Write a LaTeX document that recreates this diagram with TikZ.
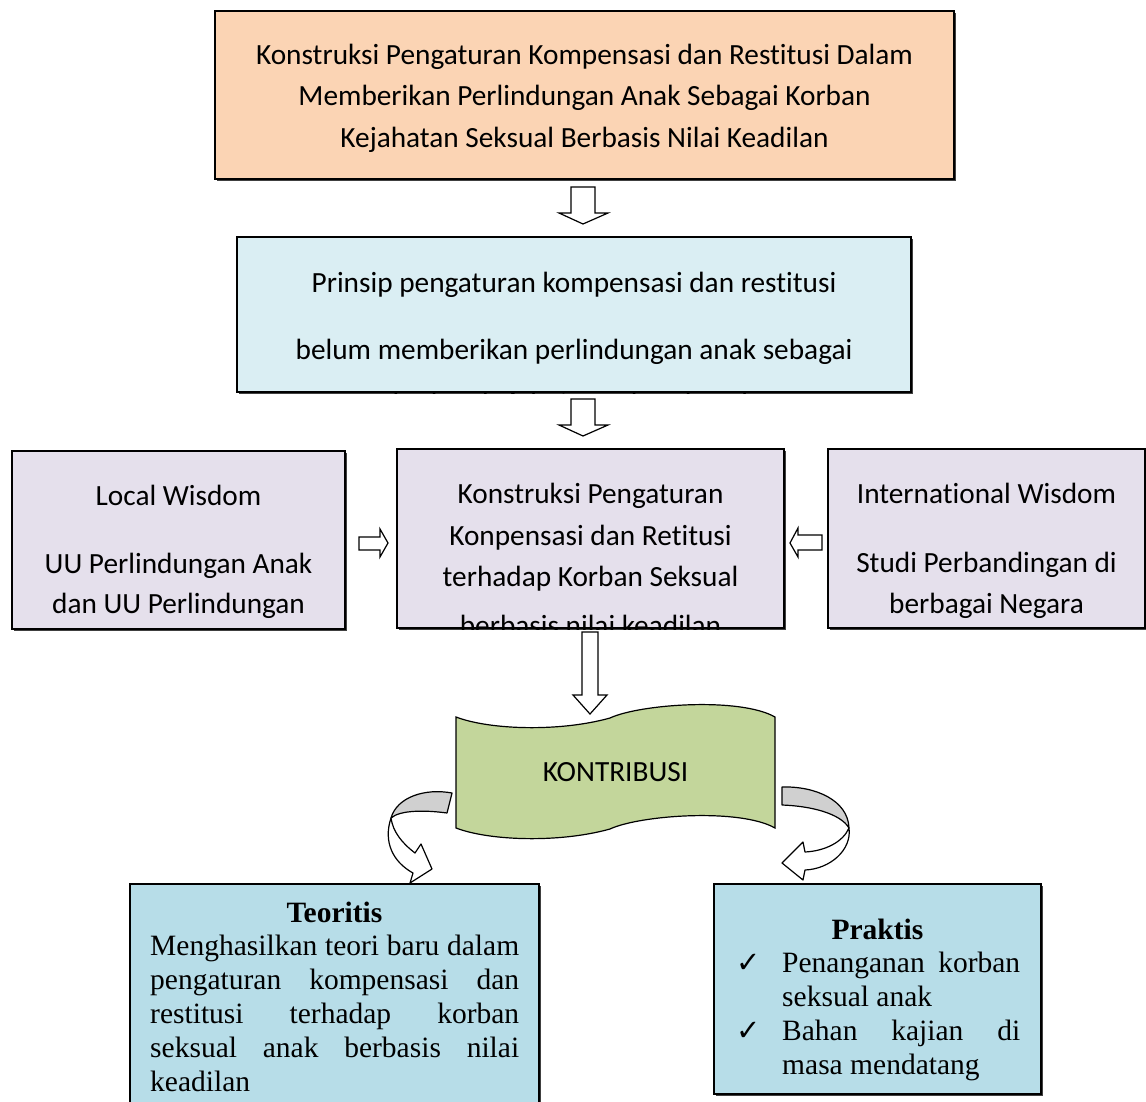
\documentclass[tikz,border=0pt]{standalone}
\usepackage{fontspec}
\setmainfont{Carlito}[Ligatures=NoCommon]
\newfontfamily\tnr{Liberation Serif}[Ligatures=NoCommon]
\newfontfamily\djv{DejaVu Sans}
\usetikzlibrary{shadows}
\definecolor{orangeC}{HTML}{FBD4B4}
\definecolor{blueC}{HTML}{DAEEF3}
\definecolor{lavC}{HTML}{E5E0EC}
\definecolor{greenC}{HTML}{C3D69B}
\definecolor{bbC}{HTML}{B7DDE8}
\definecolor{grayC}{HTML}{D0D0D0}
\begin{document}
\begin{tikzpicture}[x=1pt,y=-1pt,
  box/.style={draw=black, line width=1.2pt, inner sep=0pt, rectangle,
    drop shadow={shadow xshift=1.6pt, shadow yshift=-1.6pt, fill=black!75, opacity=1}},
  cal/.style={font=\fontsize{29.3}{35}\selectfont, inner sep=0pt, anchor=base},
  tms/.style={font=\tnr\fontsize{29.5}{34}\selectfont, inner sep=0pt, anchor=base west},
  tmsb/.style={font=\tnr\bfseries\fontsize{29.5}{34}\selectfont, inner sep=0pt, anchor=base},
  chk/.style={font=\djv\fontsize{29}{30}\selectfont, inner sep=0pt, anchor=base west},
  hollow/.style={draw=black, line width=1.2pt, fill=white, line join=miter},
  curv/.style={draw=black, line width=1.2pt, line join=round}]
\clip (0,0) rectangle (1146,1102);
\fill[white] (0,0) rectangle (1146,1102);

% ---- boxes
\node[box, fill=orangeC, minimum width=739pt, minimum height=168pt] (b1) at (584.5,95) {};
\node[box, fill=blueC, minimum width=674pt, minimum height=155pt] (b2) at (574,314.5) {};
\node[box, fill=lavC, minimum width=333pt, minimum height=178pt] (bl) at (178.5,540) {};
\node[box, fill=lavC, minimum width=387pt, minimum height=179pt] (bc) at (590.5,538.5) {};
\node[box, fill=lavC, minimum width=317pt, minimum height=179pt] (br) at (986.5,538.5) {};
\node[box, fill=bbC, minimum width=409pt, minimum height=231pt] (kl) at (334.5,999.5) {};
\node[box, fill=bbC, minimum width=327pt, minimum height=210pt] (kr) at (877.5,989) {};

% ---- box 1 text
\node[cal] (t11) at (584.5,65) {Konstruksi Pengaturan Kompensasi dan Restitusi Dalam};
\node[cal] (t12) at (584.5,106) {Memberikan Perlindungan Anak Sebagai Korban};
\node[cal] (t13) at (584.5,148) {Kejahatan Seksual Berbasis Nilai Keadilan};

% ---- box 2 text
\begin{scope}
\clip ([shift={(0.6pt,-0.6pt)}]b2.south west) rectangle ([shift={(-0.6pt,0.6pt)}]b2.north east);
\node[cal] (t21) at (574,292) {Prinsip pengaturan kompensasi dan restitusi};
\node[cal] (t22) at (574,359) {belum memberikan perlindungan anak sebagai};
\node[cal] (t23) at (574,412) {korban kejahatan seksual anak};
\end{scope}

% ---- left box
\begin{scope}
\clip (bl.south west) rectangle (bl.north east);
\node[cal] (tl1) at (178.5,505) {Local Wisdom};
\node[cal] (tl2) at (178.5,573) {UU Perlindungan Anak};
\node[cal] (tl3) at (178.5,613) {dan UU Perlindungan};
\end{scope}

% ---- centre box
\begin{scope}
\clip ([shift={(0.6pt,-0.6pt)}]bc.south west) rectangle ([shift={(-0.6pt,0.6pt)}]bc.north east);
\node[cal] (tc1) at (590.5,503) {Konstruksi Pengaturan};
\node[cal] (tc2) at (590.5,545) {Konpensasi dan Retitusi};
\node[cal] (tc3) at (590.5,586) {terhadap Korban Seksual};
\node[cal] (tc4) at (590.5,635) {berbasis nilai keadilan};
\end{scope}

% ---- right box
\node[cal] (tr1) at (986.5,503) {International Wisdom};
\node[cal] (tr2) at (986.5,572) {Studi Perbandingan di};
\node[cal] (tr3) at (986.5,613) {berbagai Negara};

% ---- block arrows
\draw[hollow] (571,187) -- (595,187) -- (595,213) -- (608,213) -- (583,224) -- (559,213) -- (571,213) -- cycle;
\draw[hollow] (571,399) -- (595,399) -- (595,425) -- (608,425) -- (583,436) -- (559,425) -- (571,425) -- cycle;
\draw[hollow] (359,537) -- (380,537) -- (380,529) -- (388,543) -- (380,557) -- (380,550) -- (359,550) -- cycle;
\draw[hollow] (822,535) -- (798,535) -- (798,528) -- (790,543) -- (798,557) -- (798,550) -- (822,550) -- cycle;
\draw[hollow] (582,632) -- (598,632) -- (598,695) -- (607,695) -- (590,714) -- (573,695) -- (582,695) -- cycle;

% ---- KONTRIBUSI wave
\draw[draw=black, line width=1.2pt, fill=greenC]
  (456,717) .. controls (490,730) and (560,732) .. (610,718)
  .. controls (640,704) and (740,697) .. (775,717)
  -- (775,828)
  .. controls (740,808) and (640,815) .. (610,829)
  .. controls (560,843) and (490,841) .. (456,828) -- cycle;
\node[cal] (kon) at (615.5,781) {KONTRIBUSI};

% ---- left curved arrow
\draw[curv, fill=grayC] (452,793) .. controls (425,788) and (397,797) .. (391,818)
  .. controls (400,810) and (425,810) .. (447,813) -- cycle;
\draw[curv, fill=white] (391,818) .. controls (383,842) and (393,862) .. (413,873)
  -- (410,883) -- (432,869) -- (421,844) -- (415,853)
  .. controls (402,843) and (393,832) .. (391,818) -- cycle;

% ---- right curved arrow
\draw[curv, fill=grayC] (782,787) .. controls (815,786) and (848,800) .. (849,828)
  .. controls (840,813) and (810,806) .. (782,805) -- cycle;
\draw[curv, fill=white] (849,828) .. controls (852,850) and (830,869) .. (805,870)
  -- (803,880) -- (782,863) -- (803,842) -- (805,852)
  .. controls (825,851) and (843,842) .. (849,828) -- cycle;

% ---- Teoritis box text
\node[tmsb] (th) at (334.5,922) {Teoritis};
\node[tms] (ta1) at (150,955) {\makebox[369pt][s]{Menghasilkan teori baru dalam}};
\node[tms] (ta2) at (150,989) {\makebox[369pt][s]{pengaturan kompensasi dan}};
\node[tms] (ta3) at (150,1023) {\makebox[369pt][s]{restitusi terhadap korban}};
\node[tms] (ta4) at (150,1057) {\makebox[369pt][s]{seksual anak berbasis nilai}};
\node[tms] (ta5) at (150,1091) {keadilan};

% ---- Praktis box text
\node[tmsb] (ph) at (877.5,939) {Praktis};
\node[chk] (c1) at (736,972) {✓};
\node[tms] (pa1) at (782,972) {\makebox[238pt][s]{Penanganan korban}};
\node[tms] (pa2) at (782,1006) {seksual anak};
\node[chk] (c2) at (736,1040) {✓};
\node[tms] (pa3) at (782,1040) {\makebox[238pt][s]{Bahan kajian di}};
\node[tms] (pa4) at (782,1074) {masa mendatang};
\end{tikzpicture}
\end{document}
